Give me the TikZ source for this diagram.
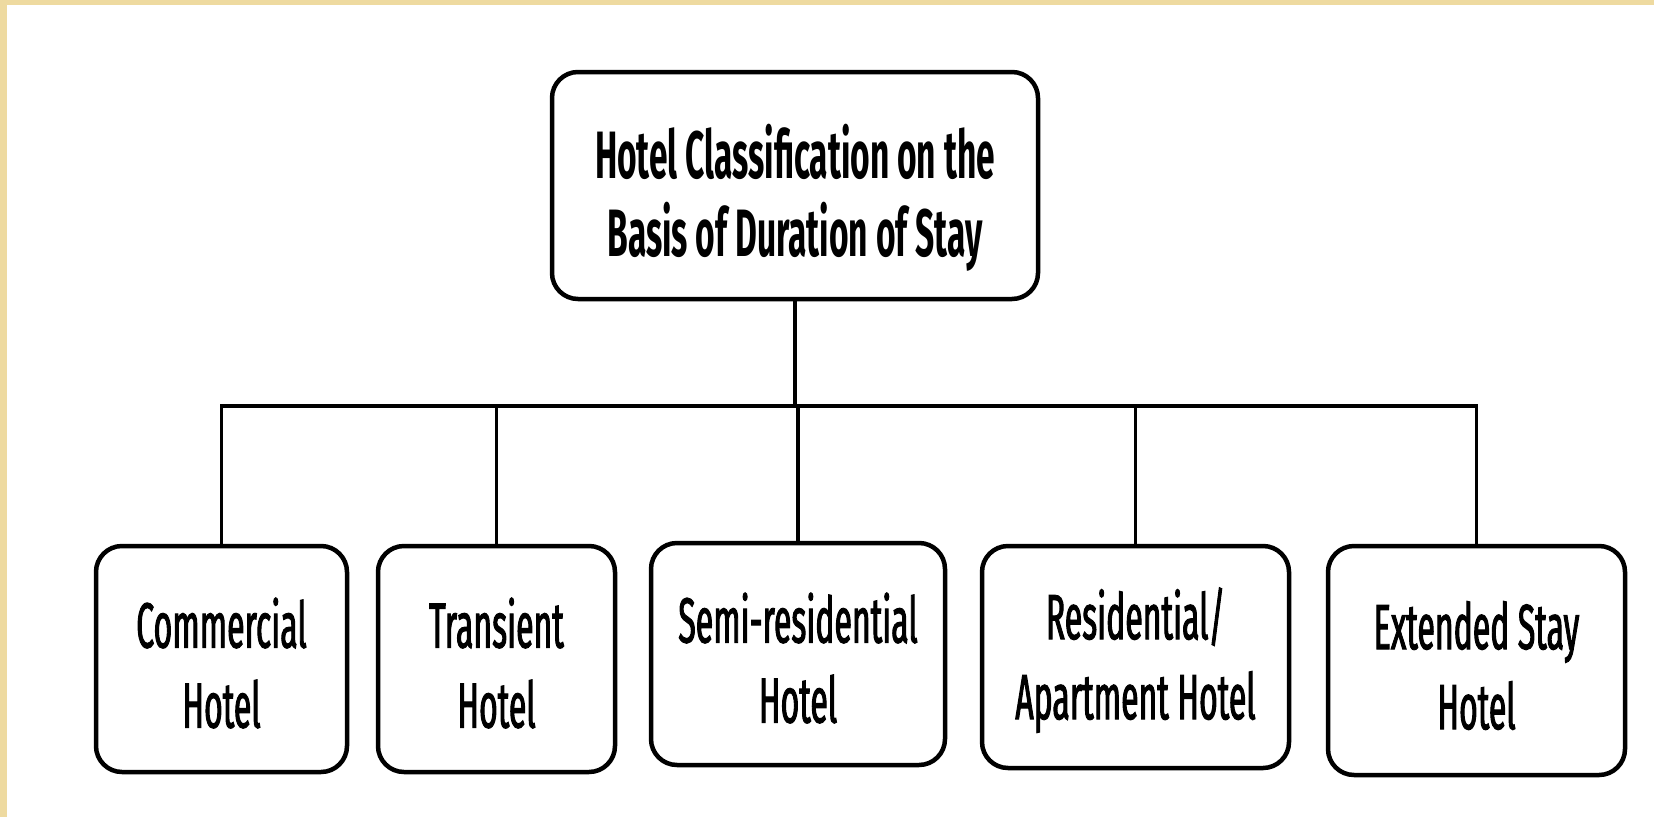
\documentclass[tikz,border=0pt]{standalone}
\usepackage{fontspec}
\setmainfont{Fira Sans}[FakeStretch=0.5]
\newfontfamily\leaffont{Fira Sans}[FakeStretch=0.5, FakeBold=1.5]
\definecolor{paperedge}{RGB}{238,218,160}
% invisible strut that lowers the text block inside its box
\newcommand{\lowerby}[1]{\rule{0pt}{#1}}
\begin{document}
\begin{tikzpicture}[x=1pt,y=1pt,
  box/.style={draw=black, line width=4.5pt, rounded corners=26pt, fill=white,
    align=center, inner sep=0pt},
  link/.style={draw=black, line width=3.2pt},
  toptext/.style={font=\fontsize{67}{78}\selectfont\bfseries},
  leaftext/.style={font=\fontsize{64}{80}\leaffont}]
  % page and paper-edge strips
  \fill[white] (0,0) rectangle (1654,-817);
  \useasboundingbox (0,0) rectangle (1654,-817);
  \fill[paperedge] (0,0) rectangle (1654,-5);
  \fill[paperedge] (0,0) rectangle (7,-817);

  % root
  \node[box, toptext, minimum width=486, minimum height=227] (top) at (795,-185.5)
    {\lowerby{78pt}Hotel Classification on the\\Basis of Duration of Stay};

  % leaves
  \node[box, leaftext, minimum width=251, minimum height=226] (b1) at (221.5,-659) {\lowerby{58pt}Commercial\\Hotel};
  \node[box, leaftext, minimum width=237, minimum height=226] (b2) at (496.5,-659) {\lowerby{58pt}Transient\\Hotel};
  \node[box, leaftext, minimum width=294, minimum height=222] (b3) at (798,-654) {\lowerby{58pt}Semi-residential\\Hotel};
  \node[box, leaftext, minimum width=307, minimum height=222] (b4) at (1135.5,-657) {\lowerby{58pt}Residential/\\Apartment Hotel};
  \node[box, leaftext, minimum width=297, minimum height=229] (b5) at (1476.5,-660.5) {\lowerby{58pt}Extended Stay\\Hotel};

  % tree connectors
  \coordinate (bus) at (0,-406);
  \draw[link] (top.south) -- (top.south |- bus);
  \draw[link] (b1.north) -- (b1.north |- bus) -- (b5.north |- bus) -- (b5.north);
  \draw[link] (b2.north) -- (b2.north |- bus);
  \draw[link] (b3.north) -- (b3.north |- bus);
  \draw[link] (b4.north) -- (b4.north |- bus);
\end{tikzpicture}
\end{document}
